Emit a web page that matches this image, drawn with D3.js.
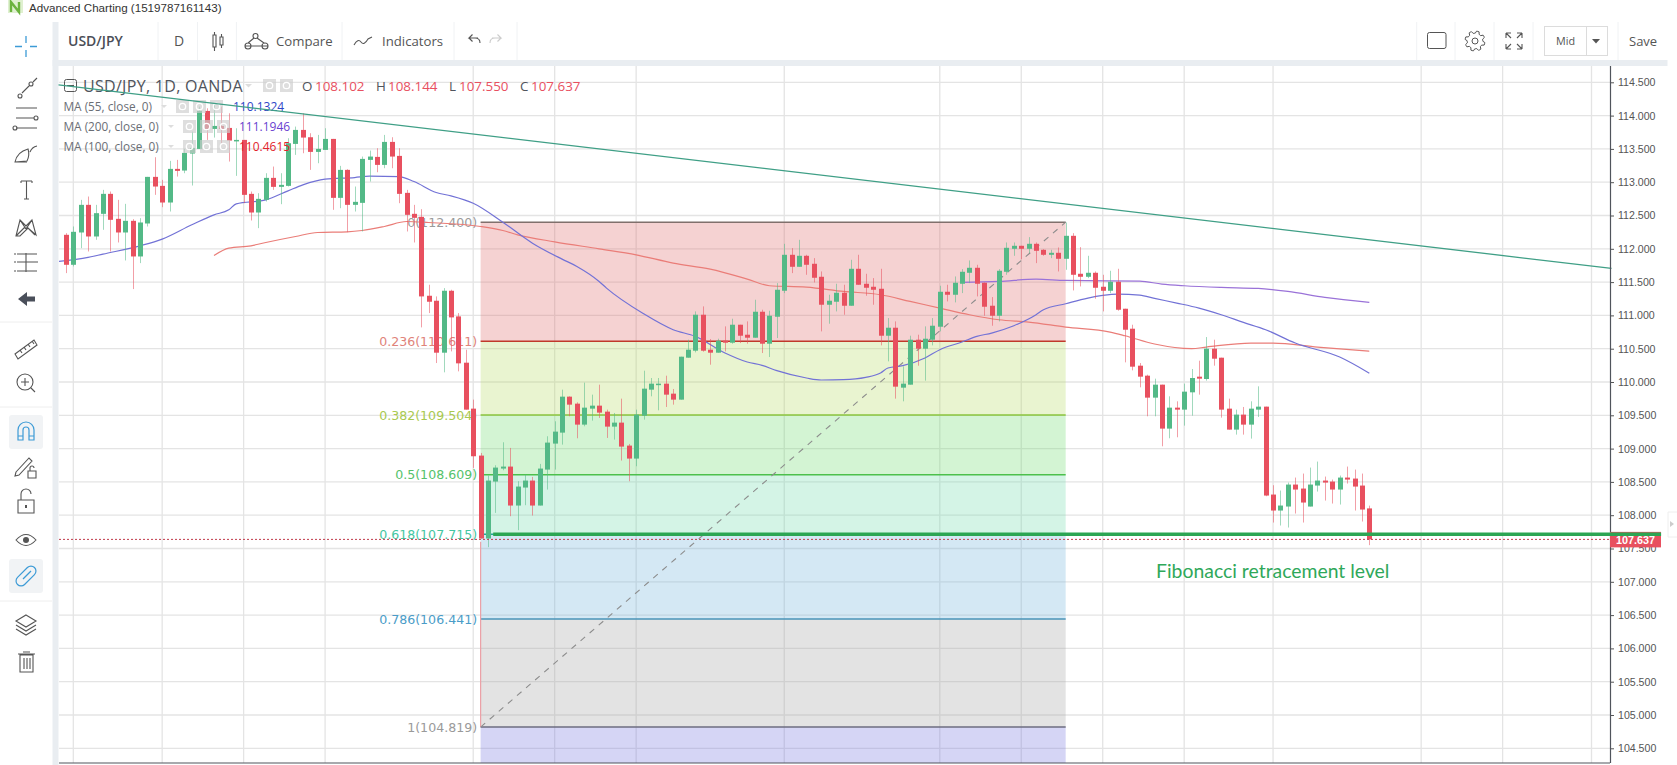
<!DOCTYPE html>
<html lang="en">
<head>
    <meta charset="UTF-8">
    <title>USD/JPY</title>
    <script src="https://d3js.org/d3.v7.min.js"></script>
    <style>
        html,body{margin:0;padding:0;background:#fff;overflow:hidden}
        svg{display:block}
        text{font-family:"Open Sans",sans-serif}
        .price text{font-family:"Liberation Sans",sans-serif;font-size:10.6px;fill:#555}
    </style>
</head>
<body>
<svg width="1677" height="765" viewBox="0 0 1677 765"></svg>
<script>
    // daily candles. index 0 is the first full candle on the left
    const opens = [112.21,111.76,112.245,112.66,112.185,112.525,112.825,112.45,112.245,112.42,111.885,112.38,113.08,112.945,112.695,113.2,113.175,113.43,113.5,114.07,113.8,113.845,113.815,113.62,113.635,112.825,112.545,112.735,113.065,112.93,112.945,113.575,113.785,113.675,113.455,113.485,113.65,112.765,113.185,112.66,112.69,113.335,113.38,113.26,113.605,113.395,112.84,112.525,112.48,111.295,111.22,110.44,111.37,110.985,110.29,109.6,108.895,107.65,108.505,108.7,108.73,108.145,108.415,108.52,108.145,108.685,109.075,109.24,109.78,109.675,109.36,109.6,109.645,109.555,109.33,109.39,109.045,108.85,109.495,109.885,109.96,109.975,109.825,109.735,110.365,110.47,111.01,110.485,110.44,110.62,110.59,110.86,110.71,110.665,111.055,110.575,110.98,111.37,111.91,111.73,111.895,111.775,111.58,111.16,111.205,111.34,111.145,111.7,111.475,111.43,111.4,110.695,110.815,109.915,109.96,110.635,110.5,110.635,110.83,111.355,111.31,111.475,111.64,111.715,111.49,111.145,110.995,111.655,112.0,112.045,112.0,112.075,111.985,111.91,111.94,111.85,112.195,111.625,111.58,111.64,111.43,111.37,111.505,111.1,110.8,110.245,110.095,109.765,109.96,109.3,109.615,109.585,109.845,110.08,110.045,110.5,110.365,109.6,109.285,109.51,109.36,109.585,109.63,108.31,108.07,108.13,108.46,108.4,108.13,108.445,108.52,108.505,108.385,108.565,108.55,108.445,108.102];
    const highs = [112.235,112.335,112.735,112.785,112.66,112.885,112.86,112.735,112.675,112.445,112.46,113.08,113.375,113.035,113.32,113.335,113.5,113.76,114.135,114.11,114.185,114.135,114.035,113.81,113.635,112.86,112.835,113.135,113.235,113.135,113.66,113.835,114.035,113.735,113.71,113.81,113.65,113.245,113.195,112.935,113.385,113.475,113.51,113.71,113.675,113.51,112.885,112.66,112.595,111.46,111.285,111.41,111.385,111.035,110.485,109.735,108.935,108.595,108.75,109.095,109.01,108.51,108.61,108.575,108.77,109.185,109.41,109.885,109.785,109.695,109.99,109.81,109.96,109.585,109.535,109.75,109.07,109.585,110.17,110.06,110.06,110.095,109.895,110.38,110.635,111.06,111.135,110.645,110.65,110.835,110.95,110.86,110.91,111.235,111.085,111.07,111.485,112.075,112.01,112.135,111.91,111.86,111.66,111.31,111.475,111.46,111.835,111.91,111.625,111.56,111.7,110.96,110.91,110.235,110.695,110.71,110.835,110.96,111.445,111.46,111.585,111.695,111.825,111.76,111.495,111.275,111.695,112.095,112.095,112.045,112.175,112.095,111.995,111.985,112.02,112.395,112.235,112.025,111.895,111.66,111.61,111.67,111.7,111.1,110.86,110.285,110.11,110.05,109.96,109.785,109.71,109.975,110.195,110.32,110.675,110.635,110.365,109.75,109.585,109.625,109.71,109.935,109.63,108.45,108.37,108.49,108.565,108.625,108.715,108.805,108.58,108.535,108.595,108.73,108.685,108.625,108.144];
    const lows = [111.635,111.735,112.01,111.96,112.135,112.285,111.96,112.095,111.825,111.395,111.785,112.335,112.81,112.625,112.56,113.085,113.135,112.95,113.5,113.635,113.67,113.585,113.31,113.095,112.685,112.425,112.31,112.71,112.885,112.67,112.935,113.41,113.435,113.185,113.285,113.485,112.585,112.61,112.25,112.56,112.26,113.01,113.15,113.21,113.21,112.685,112.26,112.095,110.82,111.035,110.285,110.145,110.46,110.16,109.585,108.71,107.65,107.52,108.035,108.675,107.985,107.775,108.15,107.995,108.145,108.385,108.685,109.06,109.485,109.155,109.335,109.42,109.46,109.16,109.135,108.82,108.51,108.735,109.435,109.785,109.575,109.625,109.66,109.735,110.365,110.445,110.455,110.26,110.44,110.46,110.575,110.585,110.575,110.665,110.435,110.375,110.66,111.335,111.635,111.73,111.61,111.495,110.76,110.875,111.06,111.01,111.145,111.46,111.295,111.16,110.55,110.31,109.75,109.71,109.96,110.245,110.02,110.55,110.76,111.21,111.195,111.335,111.485,111.285,110.995,110.845,110.91,111.61,111.895,111.845,111.935,111.785,111.895,111.86,111.66,111.685,111.375,111.435,111.56,111.25,111.06,111.335,111.07,110.295,110.175,109.92,109.485,109.485,109.035,109.155,109.17,109.345,109.495,109.81,110.02,110.245,109.465,109.285,109.21,109.21,109.15,109.475,108.285,107.89,107.845,107.815,108.025,107.89,108.13,108.355,108.22,108.175,108.16,108.475,108.07,107.905,107.55];
    const closes = [111.76,112.255,112.66,112.185,112.535,112.825,112.435,112.245,112.42,111.885,112.395,113.08,112.935,112.695,113.2,113.17,113.44,113.515,114.07,113.8,113.845,113.8,113.625,113.635,112.81,112.545,112.75,113.065,112.93,112.96,113.585,113.785,113.67,113.455,113.5,113.65,112.765,113.185,112.66,112.705,113.35,113.385,113.26,113.605,113.385,112.825,112.51,112.465,111.285,111.205,110.44,111.37,110.97,110.28,109.585,108.885,107.65,108.52,108.715,108.73,108.145,108.43,108.52,108.145,108.7,109.09,109.255,109.78,109.66,109.36,109.615,109.645,109.54,109.33,109.39,109.03,108.85,109.51,109.9,109.975,109.975,109.81,109.735,110.38,110.485,111.01,110.47,110.44,110.62,110.59,110.86,110.695,110.665,111.055,110.575,110.995,111.385,111.91,111.73,111.895,111.76,111.565,111.16,111.22,111.34,111.145,111.7,111.46,111.415,111.385,110.695,110.815,109.93,109.975,110.635,110.5,110.65,110.845,111.355,111.31,111.49,111.655,111.715,111.475,111.13,110.995,111.67,112.015,112.045,112.0,112.075,111.97,111.91,111.94,111.85,112.195,111.61,111.58,111.64,111.415,111.37,111.505,111.085,110.785,110.23,110.08,109.765,109.96,109.3,109.615,109.585,109.855,110.06,110.05,110.5,110.35,109.585,109.285,109.51,109.36,109.6,109.63,108.295,108.07,108.145,108.46,108.385,108.19,108.46,108.52,108.49,108.385,108.565,108.535,108.43,108.085,107.637];

    // moving averages: candle index + value
    const ma55Idx = [-1,3,5,10,13,17,20,22,23,27,30,32,35,39,41,45,47,50,52,55,59,63,67,69,72,73,78,82,85,89,92,94,96,100,102,105,108,110,111,113,116,118,121,123,125,128,131,132,135,138,140,142,145,147,150,153,156,159,162,166,172,176];
    const ma55Val = [111.81,111.87,111.92,112.045,112.145,112.36,112.51,112.585,112.675,112.735,112.87,112.96,113.045,113.07,113.09,113.085,113.01,112.845,112.795,112.685,112.4,112.085,111.845,111.735,111.51,111.41,111.025,110.785,110.685,110.435,110.3,110.25,110.17,110.06,110.03,110.035,110.07,110.135,110.21,110.245,110.36,110.485,110.6,110.685,110.735,110.845,111.01,111.085,111.175,111.26,111.3,111.32,111.305,111.255,111.185,111.11,111.01,110.895,110.785,110.585,110.375,110.1324];
    const ma200Idx = [121,126,131,135,145,148,151,156,161,165,170,176];
    const ma200Val = [111.495,111.51,111.545,111.525,111.515,111.47,111.445,111.42,111.405,111.36,111.27,111.1946];
    const ma100Idx = [20,22,25,27,31,34,38,40,43,46,49,56,59,61,66,72,77,82,87,92,95,100,105,110,114,118,122,126,130,135,141,143,147,152,154,160,163,169,176];
    const ma100Val = [111.9,112.01,112.045,112.095,112.185,112.245,112.255,112.275,112.335,112.41,112.395,112.335,112.275,112.21,112.105,112.0,111.91,111.785,111.695,111.545,111.445,111.425,111.36,111.31,111.21,111.11,111.01,110.935,110.9,110.825,110.75,110.695,110.57,110.5,110.525,110.585,110.585,110.525,110.4615];

    // fibonacci tool
    const fibRatios = ["0","0.236","0.382","0.5","0.618","0.786","1"];
    const fibPrices = [112.4,110.611,109.504,108.609,107.715,106.441,104.819];
    const fibFills = ["rgb(222,105,105)","rgb(182,218,98)","rgb(108,218,108)","rgb(112,218,173)","rgb(112,178,218)","rgb(162,162,162)","rgb(115,115,222)"];
    const fibLines = ["#80706c","#c0392b","#8cc63f","#4cc04c","#26a69a","#4a94b8","#6c6c80"];
    const fibLabels = ["#9a9a9a","#e0837a","#a9c94f","#55c26a","#45c6a2","#4a9cc8","#9a9a9a"];
    const fibFrom = 56, fibTo = 135;

    const trendIdx = [-1,208.7];
    const trendVal = [114.46,111.706];
    const supportIdx = [57.7,215.4];
    const lastPrice = 107.637;

    const priceTicks = [114.5,114,113.5,113,112.5,112,111.5,111,110.5,110,109.5,109,108.5,108,107.5,107,106.5,106,105.5,105,104.5];
    const gridIdx = [1,13,24,35,55,66,77,97,118,129,140,151,163,183,194,206];

    const upColor = "#53b987", downColor = "#e8505f";
    const plot = {left:59,right:1610,top:66,bottom:763};

    const x = d3.scaleLinear().domain([1,206]).range([73.3,1591.5]);
    const y = d3.scaleLinear().domain([104.5,114.5]).range([748.3,82.3]);

    const svg = d3.select("svg");
    svg.append("defs").append("clipPath").attr("id","plotClip")
        .append("rect").attr("x",plot.left).attr("y",plot.top)
        .attr("width",plot.right-plot.left).attr("height",plot.bottom-plot.top);

    // page frame
    svg.append("rect").attr("x",52.5).attr("y",22).attr("width",6).attr("height",743).attr("fill","#e9edf1");
    svg.append("rect").attr("x",52.5).attr("y",60).attr("width",1615).attr("height",6).attr("fill","#e9edf1");

    const chart = svg.append("g").attr("clip-path","url(#plotClip)");

    // grid
    chart.append("g").selectAll("line").data(priceTicks).enter().append("line")
        .attr("x1",plot.left).attr("x2",plot.right)
        .attr("y1",d=>y(d)).attr("y2",d=>y(d))
        .attr("stroke","#e4e4e4").attr("stroke-width",1.3);
    chart.append("g").selectAll("line").data(gridIdx).enter().append("line")
        .attr("x1",d=>x(d)).attr("x2",d=>x(d))
        .attr("y1",plot.top).attr("y2",plot.bottom)
        .attr("stroke","#e4e4e4").attr("stroke-width",1.3);

    // fib bands, last one runs to the bottom of the chart
    const bandEdges = fibPrices.concat([y.invert(plot.bottom)]);
    chart.append("g").selectAll("rect").data(fibPrices).enter().append("rect")
        .attr("x",x(fibFrom)).attr("width",x(fibTo)-x(fibFrom))
        .attr("y",d=>y(d))
        .attr("height",(d,i)=>y(bandEdges[i+1])-y(d))
        .attr("fill",(d,i)=>fibFills[i]).attr("opacity",0.3);
    chart.append("g").selectAll("line").data(fibPrices).enter().append("line")
        .attr("x1",x(fibFrom)).attr("x2",x(fibTo))
        .attr("y1",d=>y(d)).attr("y2",d=>y(d))
        .attr("stroke",(d,i)=>fibLines[i]).attr("stroke-width",1.5);
    chart.append("line").attr("x1",x(fibFrom)).attr("x2",x(fibFrom))
        .attr("y1",y(107.6)).attr("y2",y(fibPrices[6]))
        .attr("stroke","#eba0a6").attr("stroke-width",1.2);
    chart.append("line").attr("x1",x(fibFrom)).attr("x2",x(fibTo))
        .attr("y1",y(fibPrices[6])).attr("y2",y(fibPrices[0]))
        .attr("stroke","#8c8c8c").attr("stroke-width",1.1).attr("stroke-dasharray","6 6");
    chart.append("g").selectAll("text").data(fibPrices).enter().append("text")
        .attr("x",x(fibFrom)-3.5).attr("y",d=>y(d)+4.5)
        .attr("text-anchor","end").attr("font-size",12.6)
        .style("font-family","'DejaVu Sans',sans-serif")
        .attr("fill",(d,i)=>fibLabels[i])
        .text((d,i)=>`${fibRatios[i]}(${d3.format(".3f")(d)})`);

    // moving averages
    const maLine = d3.line().x(d=>x(d[0])).y(d=>y(d[1])).curve(d3.curveMonotoneX);
    chart.append("path").datum(d3.zip(ma100Idx,ma100Val)).attr("d",maLine)
        .attr("fill","none").attr("stroke","#ea7d78").attr("stroke-width",1.2);
    chart.append("path").datum(d3.zip(ma200Idx,ma200Val)).attr("d",maLine)
        .attr("fill","none").attr("stroke","#9a72d8").attr("stroke-width",1.2);
    chart.append("path").datum(d3.zip(ma55Idx,ma55Val)).attr("d",maLine)
        .attr("fill","none").attr("stroke","#7272d6").attr("stroke-width",1.2);

    // candles
    const candles = chart.append("g").selectAll("g").data(d3.range(opens.length)).enter().append("g");
    candles.append("line")
        .attr("x1",i=>Math.round(x(i))+0.5).attr("x2",i=>Math.round(x(i))+0.5)
        .attr("y1",i=>y(highs[i])).attr("y2",i=>y(lows[i]))
        .attr("stroke",i=>closes[i]>=opens[i]?upColor:downColor)
        .attr("stroke-opacity",0.55);
    candles.append("rect")
        .attr("x",i=>Math.round(x(i))-2).attr("width",5)
        .attr("y",i=>y(Math.max(opens[i],closes[i])))
        .attr("height",i=>Math.max(1.5,Math.abs(y(opens[i])-y(closes[i]))))
        .attr("fill",i=>closes[i]>=opens[i]?upColor:downColor);

    // legend sits over the candles, the trend line runs over the legend
    const legend = svg.append("g");
    legend.append("rect").attr("x",64.5).attr("y",79.5).attr("width",12).attr("height",12).attr("rx",2)
        .attr("fill","none").attr("stroke","#555");
    legend.append("line").attr("x1",67).attr("x2",74).attr("y1",85.5).attr("y2",85.5).attr("stroke","#555");
    legend.append("text").attr("x",83).attr("y",92).attr("font-size",16).attr("fill","#50545c").attr("letter-spacing",0.3).text("USD/JPY, 1D, OANDA");
    legend.append("path").attr("d","M245 84h7l-3.5 3.5z").attr("fill","#ddd");

    const iconBox = (g,bx,by)=>{
        g.append("rect").attr("x",bx).attr("y",by).attr("width",13).attr("height",13).attr("fill","#ccc").attr("opacity",0.65);
        g.append("circle").attr("cx",bx+6.5).attr("cy",by+6.5).attr("r",3.2).attr("fill","none").attr("stroke","#fff").attr("stroke-width",1.3);
    };
    iconBox(legend,263,79);
    iconBox(legend,280,79);

    const ohlcKeys = ["O","H","L","C"];
    const ohlcVals = ["108.102","108.144","107.550","107.637"];
    const ohlcX = [302,376,449,520];
    const ohlcValX = [315,388,459,531];
    ohlcKeys.forEach((k,i)=>{
        legend.append("text").attr("x",ohlcX[i]).attr("y",91).attr("font-size",13.4).attr("fill","#50545c").text(k);
        legend.append("text").attr("x",ohlcValX[i]).attr("y",91).attr("font-size",13.4).attr("fill",downColor).text(ohlcVals[i]);
    });

    const maNames = ["MA (55, close, 0)","MA (200, close, 0)","MA (100, close, 0)"];
    const maLast = ["110.1324","111.1946","110.4615"];
    const maText = ["#2f46c8","#6a3fd0","#e2232c"];
    const maNameY = [111,131,151];
    const maBoxX = [176,183,183];
    const maValX = [233,239,239];
    maNames.forEach((n,i)=>{
        legend.append("text").attr("x",63.5).attr("y",maNameY[i]).attr("font-size",11.8).attr("fill","#6a6e75").text(n);
        legend.append("path").attr("d",`M${maBoxX[i]-15} ${maNameY[i]-6}h6l-3 3z`).attr("fill","#ddd");
        iconBox(legend,maBoxX[i],maNameY[i]-11);
        iconBox(legend,maBoxX[i]+17,maNameY[i]-11);
        iconBox(legend,maBoxX[i]+34,maNameY[i]-11);
        legend.append("text").attr("x",maValX[i]).attr("y",maNameY[i]).attr("font-size",12).attr("fill",maText[i]).text(maLast[i]);
    });

    // trend line + horizontal level drawn on the chart
    const overlay = svg.append("g");
    overlay.append("path").datum(d3.zip(trendIdx,trendVal))
        .attr("d",d3.line().x(d=>x(d[0])).y(d=>y(d[1])))
        .attr("fill","none").attr("stroke","#3f9f86").attr("stroke-width",1.3);
    overlay.append("line").attr("x1",plot.left).attr("x2",plot.right)
        .attr("y1",y(lastPrice)).attr("y2",y(lastPrice))
        .attr("stroke","#c0394a").attr("stroke-width",1).attr("stroke-dasharray","2 2");

    // price axis
    const axis = svg.append("g").attr("class","price").attr("transform",`translate(${plot.right},0)`)
        .call(d3.axisRight(y).tickValues(priceTicks).tickFormat(d3.format(".3f")).tickSize(4).tickPadding(4));
    axis.select(".domain").remove();
    axis.selectAll(".tick line").attr("stroke","#555");
    svg.append("line").attr("x1",plot.right+0.5).attr("x2",plot.right+0.5).attr("y1",plot.top).attr("y2",plot.bottom).attr("stroke","#50545c").attr("stroke-width",1.2);
    svg.append("line").attr("x1",plot.left).attr("x2",plot.right).attr("y1",plot.bottom).attr("y2",plot.bottom).attr("stroke","#50545c").attr("stroke-width",1.2);

    // last price tag
    const tag = svg.append("g");
    tag.append("rect").attr("x",plot.right).attr("y",y(lastPrice)-7.5).attr("width",51).attr("height",15.5).attr("fill",downColor);
    tag.append("text").attr("x",plot.right+6).attr("y",y(lastPrice)+5)
        .style("font-family","'Liberation Sans',sans-serif").attr("font-size",10.8).attr("font-weight","bold").attr("fill","#fff").text("107.637");

    // annotation
    svg.append("line").attr("x1",x(supportIdx[0])).attr("x2",x(supportIdx[1]))
        .attr("y1",y(fibPrices[4])).attr("y2",y(fibPrices[4]))
        .attr("stroke","#2ca553").attr("stroke-width",3.6);
    svg.append("text").attr("x",1156).attr("y",578).attr("font-size",19.4)
        .style("font-family","Lato,sans-serif").attr("fill","#2fa85a").text("Fibonacci retracement level");

    // small scroll handle at the right edge
    svg.append("path").attr("d","M1668 512h9M1668 537h9M1668 512v25").attr("fill","none").attr("stroke","#eee");
    svg.append("path").attr("d","M1670 521l4 3l-4 3z").attr("fill","#ccc");

    // title bar
    svg.append("rect").attr("x",8).attr("y",0).attr("width",15).attr("height",13).attr("fill","#dff0d0");
    svg.append("path").attr("d","M11 12V2l8 10V2").attr("fill","none").attr("stroke","#6cb33f").attr("stroke-width",2.4);
    svg.append("text").attr("x",29).attr("y",12).attr("font-size",11.6)
        .style("font-family","'Liberation Sans',sans-serif").attr("fill","#333").text("Advanced Charting (1519787161143)");

    // top toolbar
    const bar = svg.append("g");
    const barSeps = [158,197.5,236.4,342,454,517,1416.7,1455,1494,1533,1618];
    bar.selectAll("line").data(barSeps).enter().append("line")
        .attr("x1",d=>d).attr("x2",d=>d).attr("y1",22).attr("y2",60).attr("stroke","#f0f2f4");
    const barText = (tx,ty,t,size,weight,col)=>bar.append("text").attr("x",tx).attr("y",ty).attr("font-size",size)
        .attr("font-weight",weight).attr("fill",col).text(t);
    barText(68,46,"USD/JPY",14,"600","#4a4e57");
    barText(174,46,"D",14,"400","#555");
    barText(276,45.5,"Compare",13.2,"400","#555");
    barText(382,45.5,"Indicators",13.2,"400","#555");
    barText(1556,45,"Mid",10.8,"400","#555");
    barText(1629,45.5,"Save",13,"400","#555");
    const stroke = (g,d,col,w)=>g.append("path").attr("d",d).attr("fill","none").attr("stroke",col||"#555").attr("stroke-width",w||1.1);
    stroke(bar,"M213 35h3v12h-3zM214.5 32v3M214.5 47v4M220 37h3v8h-3zM221.5 34v3M221.5 45v3");
    stroke(bar,"M245 46a3 3 0 1 0 6 0a3 3 0 1 0-6 0zM262 46a3 3 0 1 0 6 0a3 3 0 1 0-6 0zM253 36a2.4 2.4 0 1 0 5 0a2.4 2.4 0 1 0-5 0zM248 43l6-5M264 43l-7-5M245 46h23");
    stroke(bar,"M354 45q4-7 7-3t7-3q2-1 4-2");
    stroke(bar,"M478 38h-9l3.5-3.5M469 38l3.5 3.5M469 38h6q5 0 5 5");
    stroke(bar,"M492 38h9l-3.5-3.5M501 38l-3.5 3.5M501 38h-6q-5 0-5 5","#ccc");
    bar.append("rect").attr("x",1427.5).attr("y",32.5).attr("width",18.5).attr("height",16).attr("rx",2).attr("fill","none").attr("stroke","#555");
    // gear outline, eight teeth
    const gear = d3.range(48).map(k=>{
        const a = k/48*2*Math.PI, r = (k%6<3)?10:7.8;
        return [1475+r*Math.cos(a+0.16),41+r*Math.sin(a+0.16)];
    });
    bar.append("path").attr("d",d3.line().curve(d3.curveLinearClosed)(gear)).attr("fill","none").attr("stroke","#555");
    bar.append("circle").attr("cx",1475).attr("cy",41).attr("r",3).attr("fill","none").attr("stroke","#555");
    stroke(bar,"M1506 33h5M1506 33v5M1506 33l5 5M1522 33h-5M1522 33v5M1522 33l-5 5M1506 49h5M1506 49v-5M1506 49l5-5M1522 49h-5M1522 49v-5M1522 49l-5-5");
    bar.append("rect").attr("x",1544.5).attr("y",26.5).attr("width",63).attr("height",29).attr("fill","none").attr("stroke","#dcdcdc");
    bar.append("line").attr("x1",1586.5).attr("x2",1586.5).attr("y1",26.5).attr("y2",55.5).attr("stroke","#dcdcdc");
    bar.append("path").attr("d","M1592 39h8l-4 4.5z").attr("fill","#555");

    // left tool column
    const tools = svg.append("g");
    [322,407,601].forEach(d=>tools.append("line").attr("x1",0).attr("x2",52).attr("y1",d).attr("y2",d).attr("stroke","#eee"));
    tools.append("rect").attr("x",9).attr("y",415).attr("width",34).attr("height",34).attr("rx",3).attr("fill","#f1f3f5");
    tools.append("rect").attr("x",9).attr("y",559).attr("width",34).attr("height",34).attr("rx",3).attr("fill","#f1f3f5");
    const blue = "#3d9bd6";
    stroke(tools,"M26 36v7M26 50v7M15 46.5h7M30 46.5h7",blue,1.3);
    stroke(tools,"M18 96a2 2 0 1 0 4 0a2 2 0 1 0-4 0zM29 84a2 2 0 1 0 4 0a2 2 0 1 0-4 0zM22 93l7-7M33 82l4-4");
    stroke(tools,"M16 108h21M16 118h18M16 128h21M34 118a2 2 0 1 0 4 0a2 2 0 1 0-4 0zM13 128a2 2 0 1 0 4 0a2 2 0 1 0-4 0z");
    stroke(tools,"M15 162q2-10 13-13q2 6-1 12zM15 162h12M30 152q2-5 7-6");
    stroke(tools,"M21 181h11M26.5 181v18M24 199h5M21 181v2M32 181v2");
    stroke(tools,"M16 236l4-16l6 9l6-9l4 15l-8-7l-8 8zM20 220l15 15M32 220l-16 16");
    stroke(tools,"M17 254h20M17 262h20M17 271h20M26 253v19M14 254h2M14 262h2M14 271h2M36 262h2");
    tools.append("path").attr("d","M18 299l9-7v4.5h8v5h-8v4.5z").attr("fill","#4a4f5a");
    stroke(tools,"M15 354l19-14l3 5l-19 14zM20 350l2 3M24 347l2 3M28 344l2 3M32 341l2 3");
    stroke(tools,"M17 382a8 8 0 1 0 16 0a8 8 0 1 0-16 0zM25 378v8M21 382h8M31 388l4 4");
    stroke(tools,"M18 440v-10a8 8 0 0 1 16 0v10h-5v-10a3 3 0 0 0-6 0v10zM18 436h5M29 436h5",blue,1.2);
    stroke(tools,"M16 472l13-14l3 3l-13 14l-4 1zM28 471h8v7h-8zM30 471v-3a2 2 0 0 1 4 0");
    stroke(tools,"M18 500h16v13h-16zM21 500v-6a5 5 0 0 1 10 0");
    tools.append("rect").attr("x",25).attr("y",505).attr("width",2).attr("height",3).attr("fill","#555");
    stroke(tools,"M16 540q10-11 20 0q-10 11-20 0z");
    tools.append("circle").attr("cx",26).attr("cy",540).attr("r",3).attr("fill","#555");
    // paper clip: two nested rounded bars on a slant
    tools.append("rect").attr("x",14).attr("y",571).attr("width",24).attr("height",10).attr("rx",5)
        .attr("transform","rotate(-45 26 576)").attr("fill","none").attr("stroke",blue).attr("stroke-width",1.2);
    tools.append("line").attr("x1",23).attr("y1",579).attr("x2",31).attr("y2",571).attr("stroke",blue).attr("stroke-width",1.2);
    stroke(tools,"M26 615l10 6l-10 6l-10-6zM16 625l10 6l10-6M16 629l10 6l10-6");
    stroke(tools,"M20 655h13v17h-13zM18 654h17M23 652h7M24 658v11M27 658v11M30 658v11");
</script>
</body>
</html>
